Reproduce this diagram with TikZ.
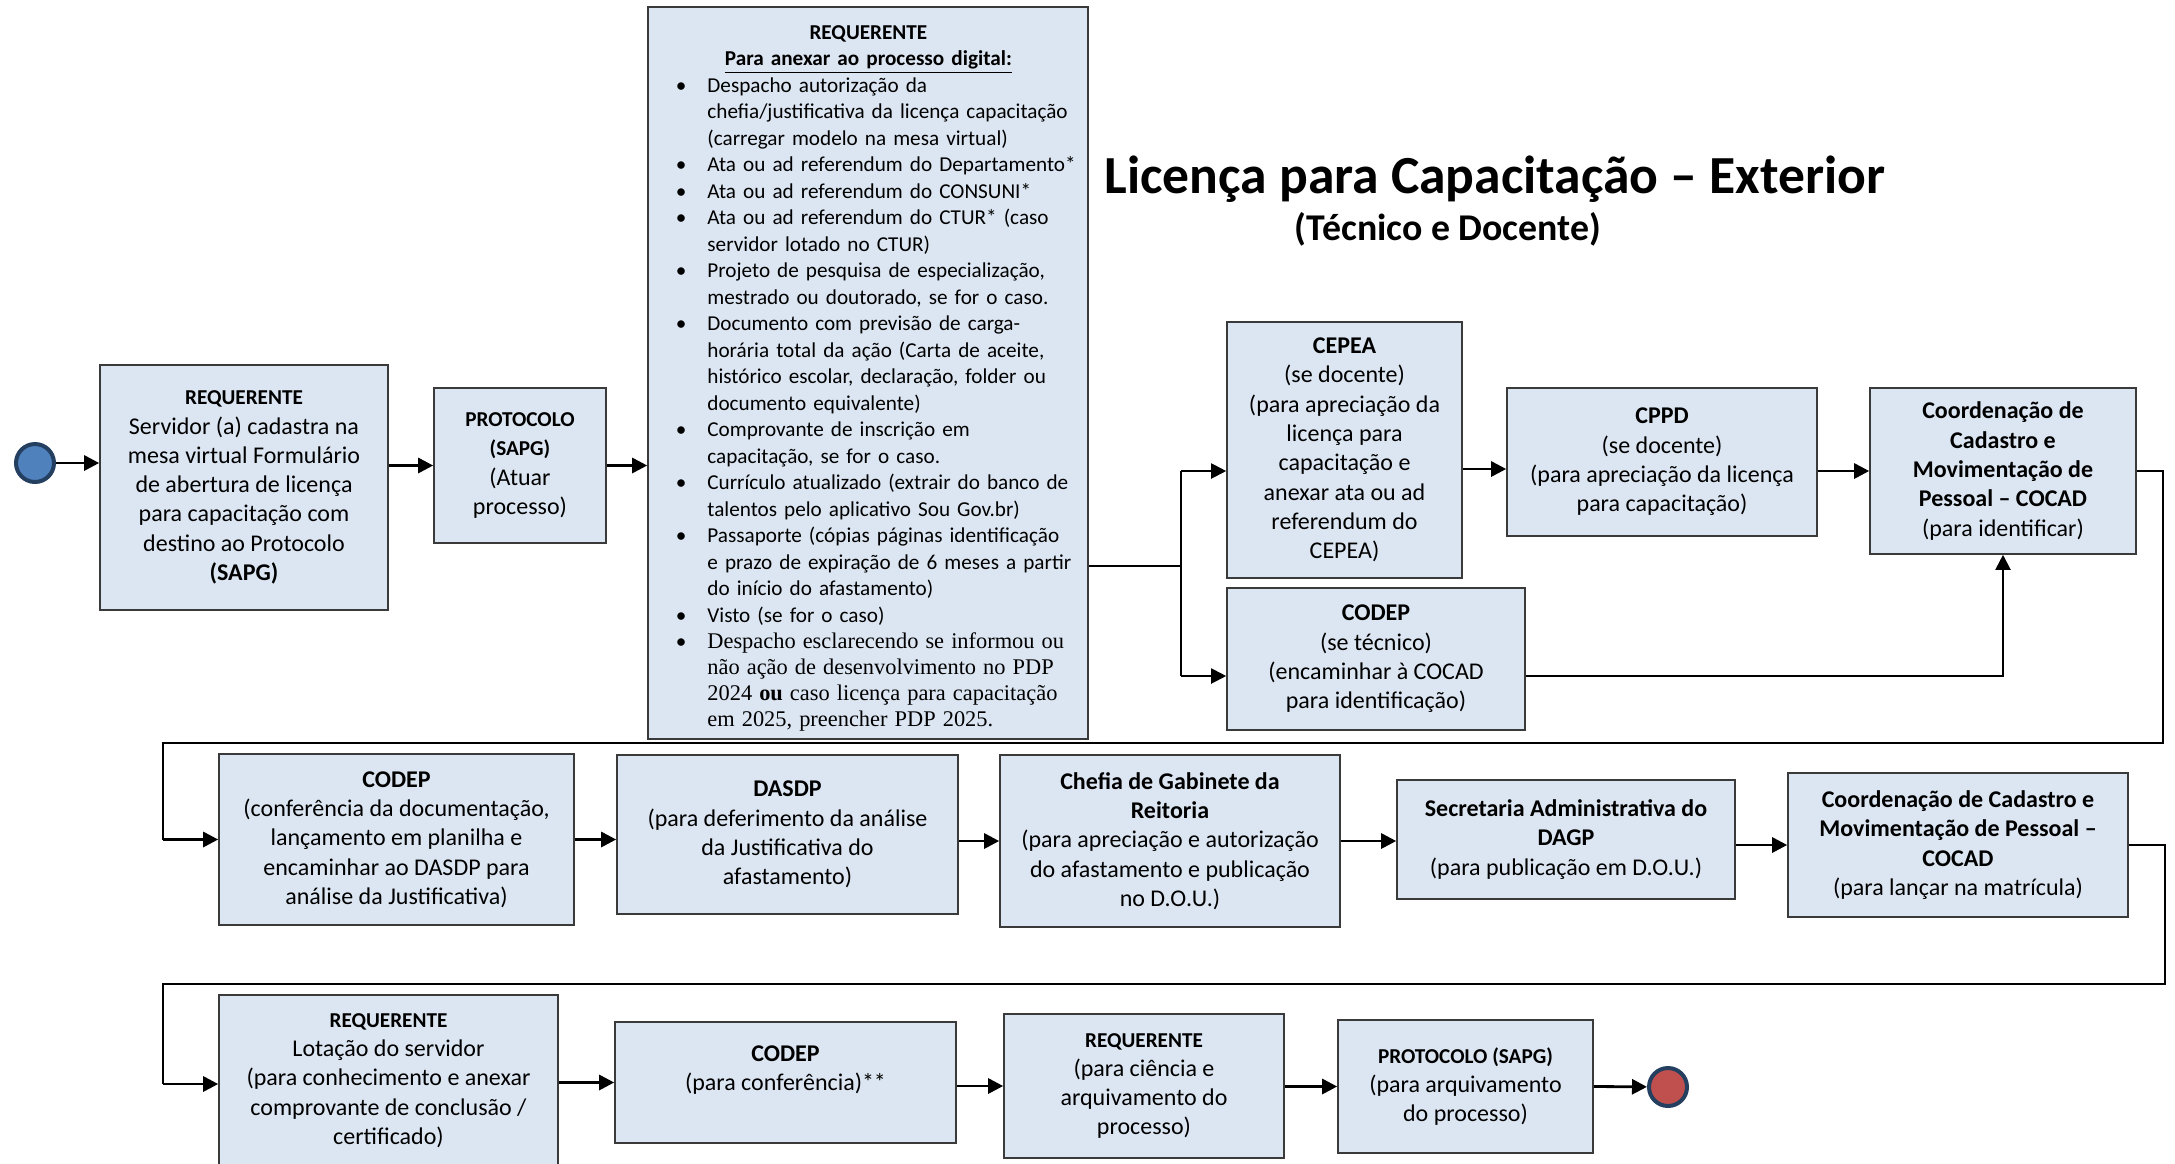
\documentclass[tikz,border=0pt]{standalone}
\usepackage{fontspec}
\setmainfont{Carlito}
\newfontfamily\timesf{Liberation Serif}
\usepackage{enumitem}
\usetikzlibrary{arrows.meta,calc}
\definecolor{boxfill}{HTML}{DCE6F2}
\definecolor{boxline}{HTML}{3A3A3A}
\definecolor{startfill}{HTML}{4F81BD}
\definecolor{endfill}{HTML}{C0504D}
\definecolor{circline}{HTML}{243F60}
\newcommand{\hdr}[1]{{\fontsize{10.6}{14.65}\selectfont\bfseries #1}}
\tikzset{
  procbox/.style={draw=boxline, line width=0.8pt, fill=boxfill, align=center, inner sep=2pt,
    font=\fontsize{12}{14.65}\selectfont},
  arr/.style={line width=1.4pt, -{Triangle[length=7.5pt,width=7.5pt]}},
  arrthin/.style={line width=1pt, -{Triangle[length=7.5pt,width=7.5pt]}},
  wire/.style={line width=1pt},
  startev/.style={circle, draw=circline, line width=2pt, fill=startfill, minimum size=19pt, inner sep=0pt},
  endev/.style={circle, draw=circline, line width=2pt, fill=endfill, minimum size=19pt, inner sep=0pt}
}
\begin{document}
\begin{tikzpicture}[x=0.5pt,y=-0.5pt]
\fill[white] (0,0) rectangle (2175,1163);
\useasboundingbox (0,0) rectangle (2175,1163);

% title
\node[anchor=base, font=\bfseries\fontsize{26.8}{31}\selectfont, inner sep=0pt] (title) at (1495,193) {Licença para Capacitação – Exterior};
\node[anchor=base, font=\bfseries\fontsize{18.9}{22}\selectfont, inner sep=0pt] (subtitle) at (1448,240) {(Técnico e Docente)};

% row 1
\node[startev] (start) at (35,463) {};
\node[procbox, minimum width=144pt, minimum height=122.5pt] (A) at (244,487.5)
  {\hdr{REQUERENTE}\\Servidor (a) cadastra na\\mesa virtual Formulário\\de abertura de licença\\para capacitação com\\destino ao Protocolo\\\textbf{(SAPG)}};
\node[procbox, minimum width=86pt, minimum height=77.5pt] (B) at (520,465.5)
  {\hdr{PROTOCOLO}\\\hdr{(SAPG)}\\(Atuar\\processo)};
\node[procbox, minimum width=220pt, minimum height=366pt] (C) at (868,373) {};
\node[anchor=north west, text width=217pt, inner sep=0pt, font=\fontsize{10.6}{13.25}\selectfont] (Ctext) at (651,25) {%
  \centering\textbf{REQUERENTE}\\
  \textbf{\underline{Para anexar ao processo digital:}}\par
  \raggedright
  \begin{itemize}[leftmargin=28pt,labelsep=10.5pt,itemsep=0pt,topsep=0pt,parsep=0pt,partopsep=0pt,label=\textbullet]
  \item Despacho autorização da\\chefia/justificativa da licença capacitação\\(carregar modelo na mesa virtual)
  \item Ata ou ad referendum do Departamento*
  \item Ata ou ad referendum do CONSUNI*
  \item Ata ou ad referendum do CTUR* (caso\\servidor lotado no CTUR)
  \item Projeto de pesquisa de especialização,\\mestrado ou doutorado, se for o caso.
  \item Documento com previsão de carga-\\horária total da ação (Carta de aceite,\\histórico escolar, declaração, folder ou\\documento equivalente)
  \item Comprovante de inscrição em\\capacitação, se for o caso.
  \item Currículo atualizado (extrair do banco de\\talentos pelo aplicativo Sou Gov.br)
  \item Passaporte (cópias páginas identificação\\e prazo de expiração de 6 meses a partir\\do início do afastamento)
  \item Visto (se for o caso)
  \item {\timesf\fontsize{11.2}{13}\selectfont Despacho esclarecendo se informou ou\\não ação de desenvolvimento no PDP\\2024 \textbf{ou} caso licença para capacitação\\em 2025, preencher PDP 2025.\par}
  \end{itemize}};

\node[procbox, minimum width=117.5pt, minimum height=128pt] (CEPEA) at (1344.5,450)
  {\textbf{CEPEA}\\(se docente)\\(para apreciação da\\licença para\\capacitação e\\anexar ata ou ad\\referendum do\\CEPEA)};
\node[procbox, minimum width=149pt, minimum height=71pt] (CODEPt) at (1376,659)
  {\textbf{CODEP}\\(se técnico)\\(encaminhar à COCAD\\para identificação)};
\node[procbox, minimum width=155pt, minimum height=74pt] (CPPD) at (1662,462)
  {\textbf{CPPD}\\(se docente)\\(para apreciação da licença\\para capacitação)};
\node[procbox, minimum width=133pt, minimum height=83pt] (COCADa) at (2003,471)
  {\textbf{Coordenação de}\\\textbf{Cadastro e}\\\textbf{Movimentação de}\\\textbf{Pessoal – COCAD}\\(para identificar)};

% row 2
\node[procbox, minimum width=177.5pt, minimum height=85.5pt] (CODEPc) at (396.5,839.5)
  {\textbf{CODEP}\\(conferência da documentação,\\lançamento em planilha e\\encaminhar ao DASDP para\\análise da Justificativa)};
\node[procbox, minimum width=170.5pt, minimum height=79.5pt] (DASDP) at (787.5,834.5)
  {\textbf{DASDP}\\(para deferimento da análise\\da Justificativa do\\afastamento)};
\node[procbox, minimum width=170pt, minimum height=86pt] (Chefia) at (1170,841)
  {\textbf{Chefia de Gabinete da}\\\textbf{Reitoria}\\(para apreciação e autorização\\do afastamento e publicação\\no D.O.U.)};
\node[procbox, minimum width=169pt, minimum height=59.5pt] (Sec) at (1566,839.5)
  {\textbf{Secretaria Administrativa do}\\\textbf{DAGP}\\(para publicação em D.O.U.)};
\node[procbox, minimum width=170pt, minimum height=72pt] (COCADb) at (1958,845)
  {\textbf{Coordenação de Cadastro e}\\\textbf{Movimentação de Pessoal –}\\\textbf{COCAD}\\(para lançar na matrícula)};

% row 3
\node[procbox, minimum width=169.5pt, minimum height=85.5pt] (REQL) at (388.5,1080.5)
  {\hdr{REQUERENTE}\\Lotação do servidor\\(para conhecimento e anexar\\comprovante de conclusão /\\certificado)};
\node[procbox, minimum width=170.5pt, minimum height=60.5pt] (CODEPf) at (785.5,1082.5)
  {\textbf{CODEP}\\(para conferência)**\\~};
\node[procbox, minimum width=140pt, minimum height=72pt] (REQC) at (1144,1086)
  {\hdr{REQUERENTE}\\(para ciência e\\arquivamento do\\processo)};
\node[procbox, minimum width=127.5pt, minimum height=66.5pt] (PROTf) at (1465.5,1086.5)
  {\hdr{PROTOCOLO (SAPG)}\\(para arquivamento\\do processo)};
\node[endev] (endc) at (1668,1087) {};

% routing points
\coordinate (br) at (1181,566);
\coordinate (brA) at (1181,471);
\coordinate (brB) at (1181,676);
\coordinate (ra) at (2163,471);
\coordinate (rb) at (2163,743);
\coordinate (rc) at (163,743);
\coordinate (rd) at (163,839.5);
\coordinate (sa) at (2165,845);
\coordinate (sb) at (2165,984);
\coordinate (sc) at (163,984);
\coordinate (sd) at (163,1084);

% connectors row 1
\draw[arr] (start) -- (start -| A.west);
\draw[arr] (A.east |- B.west) -- (B.west);
\draw[arr] (B.east) -- (B.east -| C.west);
\draw[wire] (C.east |- br) -- (br);
\draw[wire] (brA) -- (brB);
\draw[arrthin] (brA) -- (brA -| CEPEA.west);
\draw[arrthin] (brB) -- (brB -| CODEPt.west);
\draw[arr] (CEPEA.east |- 0,469) -- (CPPD.west |- 0,469);
\draw[arr] (CPPD.east |- COCADa.west) -- (COCADa.west);
\draw[arrthin] (brB -| CODEPt.east) -- (brB -| COCADa.south) -- (COCADa.south);
\draw[wire] (COCADa.east) -- (ra) -- (rb) -- (rc) -- (rd);
\draw[arr] (rd) -- (CODEPc.west);

% connectors row 2
\draw[arr] (CODEPc.east) -- (CODEPc.east -| DASDP.west);
\draw[arr] (DASDP.east |- Chefia.west) -- (Chefia.west);
\draw[arr] (Chefia.east) -- (Chefia.east -| Sec.west);
\draw[arr] (Sec.east |- COCADb.west) -- (COCADb.west);
\draw[wire] (COCADb.east) -- (sa) -- (sb) -- (sc) -- (sd);
\draw[arr] (sd) -- (sd -| REQL.west);

% connectors row 3
\draw[arr] (REQL.east |- CODEPf.west) -- (CODEPf.west);
\draw[arr] (CODEPf.east |- REQC.west) -- (REQC.west);
\draw[arr] (REQC.east |- PROTf.west) -- (PROTf.west);
\draw[arr] (PROTf.east) -- (endc);
\end{tikzpicture}
\end{document}
